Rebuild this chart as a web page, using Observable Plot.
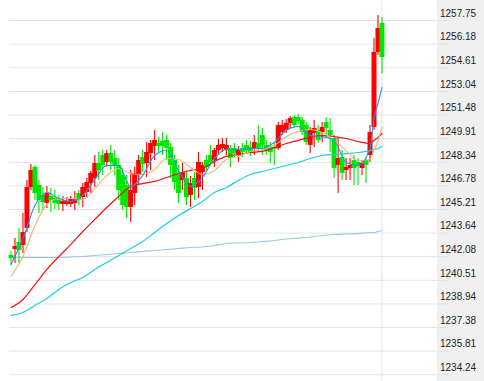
<!DOCTYPE html>
<html><head><meta charset="utf-8">
<script src="https://cdn.jsdelivr.net/npm/d3@7"></script>
<script src="https://cdn.jsdelivr.net/npm/@observablehq/plot@0.6"></script>
<style>
html,body{margin:0;padding:0;background:#fff;}
#chart svg{display:block;background:linear-gradient(to right,#ffffff 437px,#f0f0f0 437px) !important;}
</style></head><body><div id="chart"></div>
<script>
const opens  = [1242.16,1242.55,1243.02,1242.82,1243.95,1246.67,1248.00,1246.80,1246.14,1245.61,1246.07,1245.94,1245.81,1245.54,1245.54,1245.54,1245.61,1246.27,1246.00,1246.34,1246.93,1247.27,1248.26,1248.79,1248.33,1248.92,1248.59,1248.13,1247.46,1246.80,1245.34,1246.27,1247.46,1248.66,1248.26,1248.92,1249.39,1249.59,1249.72,1249.79,1249.32,1248.46,1247.60,1247.13,1247.27,1246.14,1247.27,1246.67,1247.66,1248.46,1248.79,1248.46,1249.12,1249.26,1249.12,1249.26,1249.26,1248.79,1249.26,1249.46,1249.32,1249.26,1249.59,1250.12,1249.46,1249.32,1249.32,1249.26,1250.32,1250.45,1250.92,1251.31,1251.31,1251.11,1250.78,1249.46,1250.25,1250.45,1250.32,1250.98,1250.45,1249.92,1248.13,1248.66,1247.80,1247.93,1248.46,1248.33,1247.93,1248.46,1248.79,1250.65,1255.63,1257.55];
const highs  = [1242.42,1243.28,1243.95,1244.94,1247.13,1248.19,1248.13,1247.13,1246.67,1246.73,1246.60,1246.47,1246.14,1246.07,1246.00,1246.07,1246.40,1246.47,1246.93,1247.27,1247.73,1248.79,1248.99,1249.12,1249.12,1249.46,1249.12,1248.59,1247.93,1247.46,1247.80,1248.00,1248.79,1249.12,1249.65,1249.79,1250.45,1249.99,1250.32,1250.12,1249.59,1248.79,1248.13,1248.26,1247.66,1247.40,1247.66,1248.99,1248.33,1248.79,1249.46,1249.26,1249.85,1249.92,1249.92,1249.46,1249.59,1249.39,1249.59,1249.79,1249.72,1250.12,1250.78,1250.58,1249.79,1249.65,1249.59,1250.98,1251.11,1251.18,1251.38,1251.45,1251.51,1251.31,1250.98,1250.65,1251.11,1250.78,1250.98,1251.31,1251.25,1250.12,1249.92,1249.12,1248.59,1248.59,1248.79,1248.59,1248.46,1248.66,1250.78,1256.56,1258.08,1257.95];
const lows   = [1241.49,1241.63,1241.63,1242.29,1243.68,1246.47,1245.81,1244.94,1245.14,1245.27,1245.01,1245.21,1245.14,1245.08,1245.41,1245.34,1245.14,1245.47,1245.34,1245.94,1246.27,1246.67,1247.13,1247.46,1248.00,1247.80,1247.46,1245.81,1245.14,1244.61,1244.35,1245.47,1246.80,1247.66,1247.33,1247.80,1248.46,1248.99,1248.79,1248.46,1247.27,1246.47,1245.61,1246.47,1245.47,1245.34,1245.81,1245.94,1246.47,1247.66,1248.13,1248.00,1248.79,1248.99,1248.79,1248.00,1248.66,1248.33,1248.66,1248.86,1248.73,1248.79,1248.99,1248.79,1248.79,1248.26,1248.13,1249.12,1250.12,1250.25,1250.58,1250.58,1250.85,1250.12,1249.46,1248.92,1249.32,1249.59,1249.65,1249.99,1248.99,1247.27,1246.27,1247.13,1247.13,1247.13,1246.80,1246.80,1247.46,1246.93,1248.33,1250.45,1255.43,1254.23];
const closes = [1241.96,1242.75,1242.49,1243.68,1246.67,1247.80,1246.27,1245.81,1245.67,1246.27,1245.81,1245.61,1245.54,1245.74,1245.74,1245.87,1245.87,1245.81,1246.67,1247.00,1247.60,1248.26,1247.80,1248.13,1248.92,1248.33,1248.06,1246.47,1245.47,1245.34,1246.47,1247.60,1248.46,1248.19,1248.99,1249.59,1249.79,1249.39,1249.39,1249.26,1248.13,1247.00,1246.27,1247.66,1246.00,1246.93,1246.60,1248.33,1248.13,1248.00,1248.33,1249.12,1249.46,1249.52,1249.46,1248.59,1248.92,1249.12,1248.99,1249.12,1248.99,1249.65,1249.26,1249.46,1249.12,1248.99,1249.19,1250.78,1250.78,1250.92,1251.25,1250.78,1251.05,1250.32,1249.65,1250.45,1250.58,1249.79,1250.65,1250.58,1250.12,1247.93,1248.59,1247.60,1248.00,1248.13,1247.93,1248.06,1248.26,1248.13,1250.32,1255.63,1257.22,1255.29];

const maIndex = [0,3,6,9,12,15,18,21,24,27,30,33,36,39,42,45,48,51,54,57,60,63,66,69,72,75,78,81,84,87,90,91,92,93];
const ma5   = [1241.56,1243.28,1245.47,1246.34,1245.94,1245.74,1246.14,1247.20,1248.13,1248.13,1246.73,1247.46,1248.79,1249.12,1247.80,1246.73,1247.33,1248.59,1249.19,1249.19,1249.26,1249.26,1249.65,1250.45,1250.72,1250.12,1250.05,1249.79,1248.33,1248.13,1249.26,1251.25,1252.24,1253.30];
const ma10  = [1240.76,1242.09,1244.15,1245.54,1245.94,1245.94,1245.87,1246.60,1247.46,1247.93,1247.60,1247.53,1247.86,1248.59,1248.53,1248.00,1247.53,1247.80,1248.53,1248.73,1249.06,1249.19,1249.45,1250.05,1250.38,1250.52,1250.32,1249.79,1249.12,1248.46,1248.53,1249.12,1249.79,1250.65];
const ma20  = [1238.70,1239.24,1240.23,1241.23,1242.09,1242.89,1243.75,1244.55,1245.34,1246.07,1246.73,1246.93,1247.07,1247.33,1247.60,1247.80,1247.93,1248.39,1248.73,1248.86,1248.99,1249.06,1249.32,1249.59,1249.79,1249.99,1250.12,1250.05,1249.92,1249.72,1249.59,1249.79,1249.99,1250.25];
const ma60  = [1238.18,1238.37,1238.84,1239.30,1239.90,1240.36,1240.70,1241.23,1241.69,1242.16,1242.62,1243.08,1243.68,1244.28,1244.81,1245.27,1245.74,1246.34,1246.67,1247.13,1247.53,1247.73,1247.93,1248.13,1248.33,1248.59,1248.79,1248.86,1248.92,1248.99,1249.12,1249.19,1249.26,1249.39];
const ma250 = [1242.02,1242.02,1242.02,1242.02,1242.02,1242.06,1242.09,1242.16,1242.22,1242.29,1242.35,1242.42,1242.49,1242.55,1242.62,1242.69,1242.72,1242.82,1242.95,1242.99,1243.02,1243.08,1243.15,1243.25,1243.31,1243.38,1243.48,1243.55,1243.58,1243.61,1243.68,1243.68,1243.75,1243.82];

const yTicks = [1234.24,1235.81,1237.38,1238.94,1240.51,1242.08,1243.64,1245.21,1246.78,1248.34,1249.91,1251.48,1253.04,1254.61,1256.18,1257.75];

const UP = "#ff0000", DOWN = "#00e600";
const candles = opens.map((o, i) => ({i, open: o, high: highs[i], low: lows[i], close: closes[i]}));
const ups = candles.filter(d => d.close >= d.open);
const downs = candles.filter(d => d.close < d.open);
const maRows = maIndex.map((i, k) => ({i, ma5: ma5[k], ma10: ma10[k], ma20: ma20[k], ma60: ma60[k], ma250: ma250[k]}));

const chart = Plot.plot({
  width: 484, height: 381,
  marginLeft: 9, marginRight: 47, marginTop: 0, marginBottom: 0,
  x: {domain: [-0.376, 106.92], axis: null},
  y: {domain: [1233.795, 1259.077], axis: null},
  style: {fontFamily: "'Liberation Sans', Arial, sans-serif", fontSize: "10px", color: "#222", background: "transparent"},
  marks: [
    Plot.gridY(yTicks, {stroke: "#e4e4e4", strokeOpacity: 1}),
    Plot.ruleX([candles.length - 1], {stroke: "#e4e4e4"}),
    Plot.axisY(yTicks, {anchor: "right", tickSize: 10, tickFormat: () => "", stroke: "#e2e2e2", label: null}),
    Plot.axisY(yTicks, {anchor: "right", tickSize: 0, tickPadding: 2.5, dy: -7, tickFormat: d => d.toFixed(2), fill: "#222", label: null}),
    Plot.line(maRows, {x: "i", y: "ma250", stroke: "#9cc6df", strokeWidth: 1.1, curve: "monotone-x"}),
    Plot.ruleX(ups, {x: "i", y1: "low", y2: "high", stroke: UP, strokeWidth: 1.1}),
    Plot.ruleX(downs, {x: "i", y1: "low", y2: "high", stroke: DOWN, strokeWidth: 1.1}),
    Plot.ruleX(candles, {x: "i", y1: "open", y2: "close", strokeWidth: 5, stroke: d => d.close >= d.open ? UP : DOWN}),
    Plot.line(maRows, {x: "i", y: "ma60", stroke: "#16d0e0", strokeWidth: 1.2, curve: "monotone-x"}),
    Plot.line(maRows, {x: "i", y: "ma20", stroke: "#ee1111", strokeWidth: 1.2, curve: "monotone-x"}),
    Plot.line(maRows, {x: "i", y: "ma10", stroke: "#f2b27a", strokeWidth: 1.1, curve: "monotone-x"}),
    Plot.line(maRows, {x: "i", y: "ma5", stroke: "#2a8ff0", strokeWidth: 1.1, curve: "monotone-x"})
  ]
});
document.getElementById("chart").appendChild(chart);
</script></body></html>
